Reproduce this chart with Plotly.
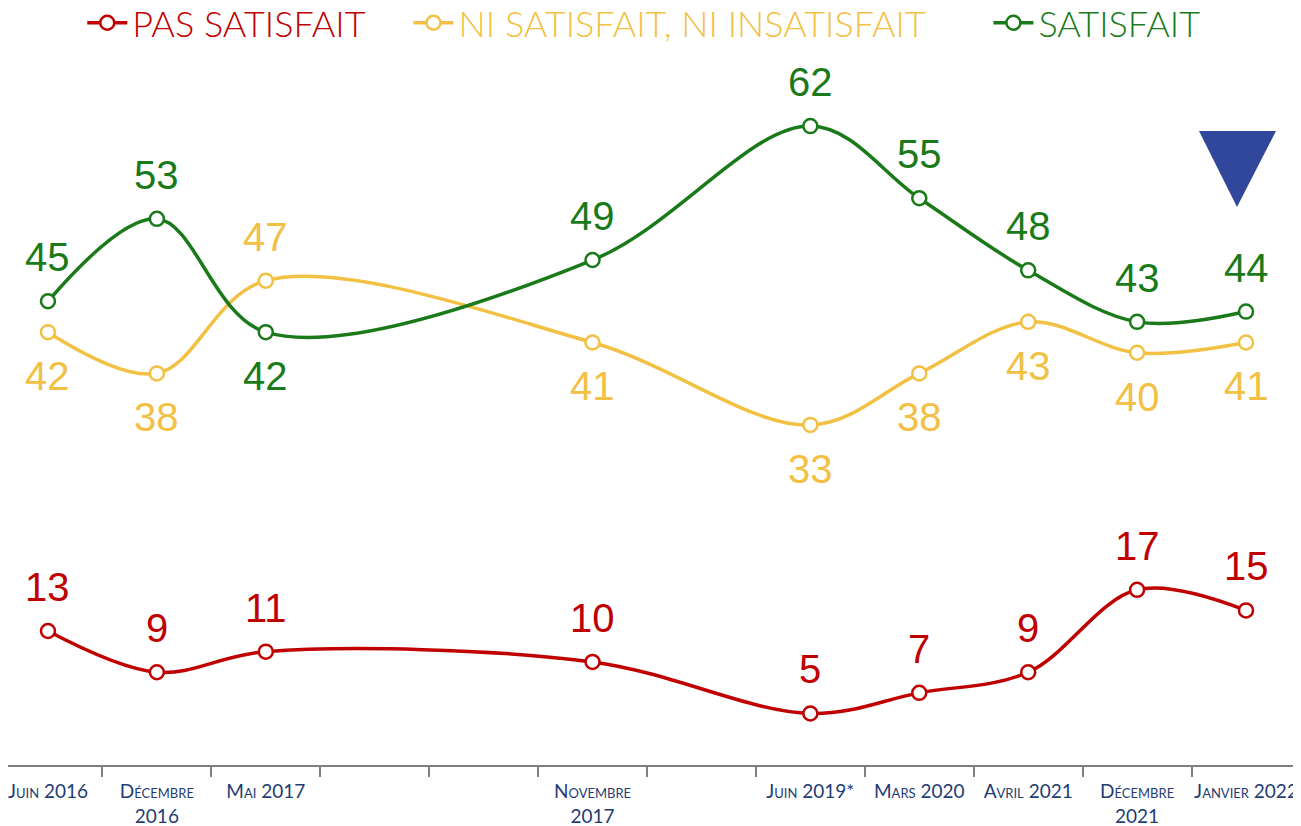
import plotly.graph_objects as go

# ---- data ----
slots = ["Juin 2016", "Décembre<br>2016", "Mai 2017", "", "", "Novembre<br>2017", "",
         "Juin 2019*", "Mars 2020", "Avril 2021", "Décembre<br>2021", "Janvier 2022"]
slot_ids = [f"c{i}" for i in range(len(slots))]
survey_ids = ["c0", "c1", "c2", "c5", "c7", "c8", "c9", "c10", "c11"]

pas_satisfait = [13, 9, 11, 10, 5, 7, 9, 17, 15]
ni_ni = [42, 38, 47, 41, 33, 38, 43, 40, 41]
satisfait = [45, 53, 42, 49, 62, 55, 48, 43, 44]

pas_pos = ["top"] * 9
ni_pos = ["bottom", "bottom", "top", "bottom", "bottom", "bottom", "bottom", "bottom", "bottom"]
sat_pos = ["top", "top", "bottom", "top", "top", "top", "top", "top", "top"]

RED = "#C00000"
YEL = "#F2C043"
GRN = "#1A7A1A"
BLUE = "#31479C"

series = [
    ("PAS SATISFAIT", pas_satisfait, RED, pas_pos, "&nbsp;" * 4),
    ("NI SATISFAIT, NI INSATISFAIT", ni_ni, YEL, ni_pos, "&nbsp;" * 6),
    ("SATISFAIT", satisfait, GRN, sat_pos, ""),
]

fig = go.Figure()
annotations = []
for name, vals, col, pos, pad in series:
    fig.add_trace(go.Scatter(
        x=survey_ids, y=vals, mode="lines+markers",
        name=f"<span style='color:{col}'>{name}</span>{pad}",
        line=dict(color=col, width=3.5, shape="spline", smoothing=1),
        marker=dict(size=14, color="white", line=dict(color=col, width=2.5)),
        hoverinfo="skip",
    ))
    for xi, v, p in zip(survey_ids, vals, pos):
        annotations.append(dict(
            x=xi, y=v, xref="x", yref="y", text=str(v), showarrow=False,
            yshift=44 if p == "top" else -44,
            font=dict(family="Liberation Sans, Arial", size=40, color=col),
        ))

# page body adds an 8px offset; size the figure so it ends at the window edge
OFF = 8
W, H = 1301 - OFF, 826 - OFF
bottom = 61.4
plot_h = H - bottom
px_per_unit = 10.3
y_top = plot_h / px_per_unit

def px_to_paper(px, py):
    return (px - OFF) / W, (plot_h - (py - OFF)) / plot_h

p1 = px_to_paper(1199, 131)
p2 = px_to_paper(1276, 131)
p3 = px_to_paper(1237, 207)
tri = f"M {p1[0]},{p1[1]} L {p2[0]},{p2[1]} L {p3[0]},{p3[1]} Z"

fig.update_layout(
    width=W, height=H,
    margin=dict(l=0, r=0, t=0, b=bottom, autoexpand=False),
    paper_bgcolor="white", plot_bgcolor="white",
    showlegend=True,
    legend=dict(orientation="h", x=0.4917, xanchor="center", y=1.02, yanchor="top",
                font=dict(family="Lato, Liberation Sans", size=36, weight=300),
                itemwidth=40, tracegroupgap=0, bgcolor="rgba(0,0,0,0)"),
    annotations=annotations,
    shapes=[dict(type="path", path=tri, xref="paper", yref="paper",
                 fillcolor=BLUE, line=dict(width=0))],
    xaxis=dict(
        type="category", categoryorder="array", categoryarray=slot_ids,
        tickvals=slot_ids, ticktext=slots,
        range=[-0.367, 11.505],
        tickson="boundaries", ticks="outside", ticklen=10, tickwidth=2, tickcolor="#7f7f7f",
        showline=True, linecolor="#7f7f7f", linewidth=2,
        showgrid=False, zeroline=False, tickangle=0, automargin=False,
        ticklabelstandoff=8,
        tickfont=dict(family="Lato, Liberation Sans", size=19, color="#1F3C73", variant="small-caps"),
    ),
    yaxis=dict(range=[0, y_top], visible=False, showgrid=False, zeroline=False),
)

fig.write_html("out.html")
